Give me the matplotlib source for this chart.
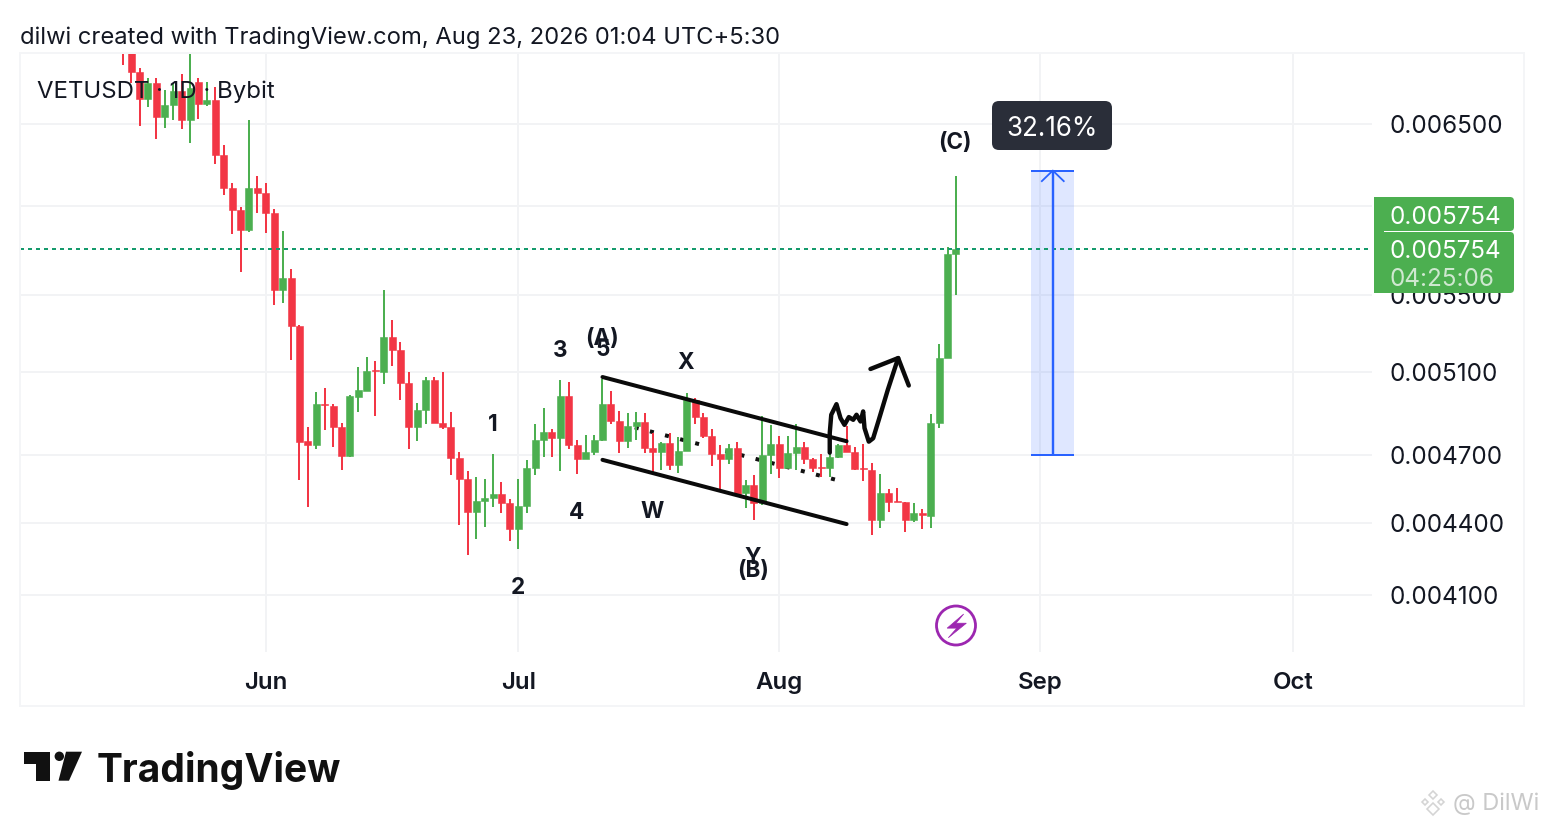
import numpy as np
import matplotlib
matplotlib.use("Agg")
import matplotlib.pyplot as plt
from matplotlib.patches import FancyBboxPatch, Rectangle, Circle, Polygon
from matplotlib.transforms import ScaledTranslation

plt.rcParams['font.family'] = ['Inter', 'DejaVu Sans']

W, H = 1544, 828
PT = 0.72  # points per pixel at dpi 100

# ---------- data (prices in millionths of USDT) ----------
first_day = -17  # days relative to 1 June
opens = [7123,7089,6837,6662,6769,6547,6623,6715,6528,6775,
         6630,6655,6307,6107,5976,5861,6107,6076,5959,5527,
         5593,5336,4766,4750,4943,4935,4834,4699,4977,5008,
         5111,5098,5279,5213,5045,4835,4915,5062,4854,4833,
         4689,4593,4448,4494,4508,4526,4487,4375,4472,4644,
         4772,4809,4779,4980,4747,4683,4716,4772,4944,4861,
         4766,4839,4856,4734,4716,4757,4657,4721,4962,4880,
         4791,4707,4683,4734,4529,4567,4487,4704,4753,4642,
         4713,4738,4683,4648,4641,4694,4747,4716,4644,4635,
         4412,4529,4495,4493,4412,4442,4431,4852,5171,5726]
highs = [7189,7156,6869,6802,6802,6722,6769,6829,7000,6802,
         6775,6742,6369,6137,5994,6528,6179,6137,5982,5855,
         5642,5341,4834,5002,5022,4943,4853,4985,5126,5176,
         5153,5527,5368,5254,5102,4948,5073,5077,5102,4905,
         4716,4631,4603,4594,4708,4580,4504,4594,4680,4848,
         4924,4825,5062,5052,4772,4796,4796,5067,5007,4910,
         4900,4905,4900,4806,4764,4806,4788,4997,4973,4900,
         4825,4749,4753,4763,4589,4613,4886,4844,4791,4791,
         4847,4764,4690,4706,4711,4753,4839,4738,4755,4665,
         4617,4550,4553,4493,4485,4460,4896,5241,5764,6179]
lows = [6889,6769,6485,6610,6407,6477,6528,6471,6382,6534,
        6617,6252,6064,5838,5625,5850,5959,5844,5446,5456,
        5161,4589,4469,4730,4820,4739,4635,4695,4905,5007,
        4883,5042,5132,4962,4730,4768,4845,4853,4825,4612,
        4392,4262,4333,4383,4470,4443,4324,4291,4445,4613,
        4695,4693,4631,4730,4617,4683,4702,4768,4848,4713,
        4734,4772,4713,4622,4635,4635,4620,4721,4848,4782,
        4650,4537,4662,4517,4465,4413,4478,4615,4597,4642,
        4635,4662,4626,4602,4604,4689,4716,4635,4582,4350,
        4378,4449,4489,4359,4406,4376,4378,4828,5171,5499]
closes = [6989,6837,6660,6769,6547,6623,6715,6528,6735,6630,
          6655,6307,6107,5976,5861,6107,6076,5959,5527,5593,
          5336,4764,4750,4943,4937,4833,4699,4982,5012,5106,
          5103,5279,5213,5045,4835,4915,5062,4854,4833,4689,
          4593,4448,4494,4508,4526,4487,4375,4473,4644,4772,
          4810,4779,4980,4747,4683,4716,4772,4944,4859,4766,
          4839,4856,4734,4716,4757,4657,4721,4962,4880,4791,
          4707,4683,4733,4526,4565,4487,4704,4753,4642,4713,
          4738,4683,4645,4644,4694,4747,4716,4640,4638,4412,
          4529,4492,4489,4412,4442,4434,4852,5171,5726,5754]

price_ticks = [0.0065, 0.0060, 0.0055, 0.0051, 0.0047, 0.0044, 0.0041]
price_labels = ['0.006500', '0.006000', '0.005500', '0.005100', '0.004700', '0.004400', '0.004100']
month_days = [0, 30, 61, 92, 122]
month_labels = ['Jun', 'Jul', 'Aug', 'Sep', 'Oct']
last_price = 0.005754

# drawings: (day, price in millionths)
upper_channel_day, upper_channel_price = [40, 69], [5075, 4766]
lower_channel_day, lower_channel_price = [40, 69], [4680, 4395]
dotted_day, dotted_price = [43.84, 67.9], [4831, 4588]
squiggle_day = [67.0,67.0,67.18,67.8,68.28,68.75,69.27,69.79,70.18,70.66,70.97,71.13,71.64,72.16,72.83,73.9,75.13]
squiggle_price = [4713,4804,4891,4942,4875,4843,4880,4867,4891,4859,4907,4828,4764,4780,4867,5012,5170]
arrow_head_day, arrow_head_price = [71.84,75.13,76.39], [5115,5170,5033]
measure_days = [90.9, 96.05]
measure_mid = 93.5
measure_from, measure_to = 4700, 6211
measure_wing_price, measure_wing_half = 6147, 1.3

# ---------- main chart ----------
GREEN, RED = '#4caf50', '#f23645'
GRID = '#f2f3f5'
fig = plt.figure(figsize=(W/100, H/100), dpi=100, facecolor='white')
L, R, T, B = 20, 1372, 55, 653
ax = fig.add_axes([L/W, 1-B/H, (R-L)/W, (B-T)/H], zorder=1)
ax.set_yscale('log')
ax.set_xlim((L-265.8)/8.417, (R-265.8)/8.417)
ax.set_ylim(0.003878, 0.006961)
for s in ax.spines.values():
    s.set_visible(False)
ax.yaxis.tick_right()
ax.set_yticks(price_ticks, price_labels)
ax.minorticks_off()
ax.yaxis.set_minor_locator(matplotlib.ticker.NullLocator())
ax.set_xticks(month_days, month_labels)
ax.tick_params(axis='y', length=0, pad=17.5*PT, labelsize=24.2*PT, labelcolor='#131722')
ax.tick_params(axis='x', length=0, pad=19.5*PT, labelsize=24*PT, labelcolor='#131722')
for t in ax.get_xticklabels():
    t.set_fontweight('semibold')
nudge = ScaledTranslation(0, 1/100, fig.dpi_scale_trans)
for t in ax.get_yticklabels():
    t.set_transform(t.get_transform() + nudge)
ax.grid(True, color=GRID, lw=2*PT, zorder=0)
ax.set_axisbelow(True)

day = np.arange(first_day, first_day + len(opens))
o, h, l, c = [np.array(a) * 1e-6 for a in (opens, highs, lows, closes)]
col = np.where(c >= o, GREEN, RED)
ax.plot(dotted_day, np.array(dotted_price)*1e-6, color='#111111', lw=4*PT,
        ls=(0, (1, 2.9)), zorder=2)
ax.vlines(day, l, h, colors=col, lw=2*PT, zorder=3)
ax.bar(day, np.abs(c-o), bottom=np.minimum(o, c), width=7/8.417, color=col,
       edgecolor=col, lw=0.4, zorder=3)

# last price line
ax.axhline(last_price, color='#159a6c', lw=2*PT, ls=(0, (2, 2)), zorder=4)

# price range tool
md0, md1 = measure_days
ax.fill_between(measure_days, measure_from*1e-6, measure_to*1e-6, color='#2962ff', alpha=0.15, lw=0, zorder=2)
ax.hlines([measure_from*1e-6, measure_to*1e-6], md0, md1, colors='#2962ff', lw=2*PT, zorder=5)
ax.vlines(measure_mid, measure_from*1e-6, measure_to*1e-6, colors='#2962ff', lw=2.4*PT, zorder=5)
ax.plot([measure_mid-measure_wing_half, measure_mid, measure_mid+measure_wing_half],
        [measure_wing_price*1e-6, measure_to*1e-6, measure_wing_price*1e-6],
        color='#2962ff', lw=1.8*PT, zorder=5)

# hand-drawn lines
for xs, ys in [(upper_channel_day, upper_channel_price), (lower_channel_day, lower_channel_price)]:
    ax.plot(xs, np.array(ys)*1e-6, color='#0a0a0a', lw=4*PT, solid_capstyle='round', zorder=6)
ax.plot(squiggle_day, np.array(squiggle_price)*1e-6, color='#0a0a0a', lw=4.4*PT,
        solid_capstyle='round', solid_joinstyle='round', zorder=6)
ax.plot(arrow_head_day, np.array(arrow_head_price)*1e-6, color='#0a0a0a', lw=4.4*PT,
        solid_capstyle='round', solid_joinstyle='round', zorder=6)

# ---------- overlay in pixels ----------
ov = fig.add_axes([0, 0, 1, 1], zorder=2)
ov.set_xlim(0, W); ov.set_ylim(H, 0); ov.axis('off'); ov.patch.set_alpha(0)

ov.add_patch(Rectangle((20, 54), 1504, 653, fill=False, ec='#f4f5f7', lw=2*PT))

ov.text(20, 38, 'dilwi created with TradingView.com, Aug 23, 2026 01:04 UTC+5:30',
        fontsize=23.75*PT, color='#131722', va='center', ha='left')
ov.text(37, 92, 'VETUSDT · 1D · Bybit', fontsize=24*PT, color='#131722', va='center', ha='left')

wave_labels = [('(A)', 602, 339), ('5', 603, 350), ('3', 560, 351), ('1', 493, 425),
               ('2', 518, 588), ('4', 577, 513), ('W', 652, 512), ('X', 686, 363),
               ('Y', 753, 558), ('(B)', 753, 571), ('(C)', 955, 143)]
for s, x, y in wave_labels:
    ov.text(x, y, s, fontsize=22.5*PT, fontweight='bold', color='#131722', ha='center', va='center')

# tooltip
ov.add_patch(FancyBboxPatch((992+7, 102+7), 120-14, 49-14, boxstyle='round,pad=7,rounding_size=7',
                            fc='#2a2e39', ec='none', mutation_aspect=1))
ov.text(1052, 129, '32.16%', color='#ffffff', fontsize=26*PT, ha='center', va='center')

# price tags
ov.add_patch(FancyBboxPatch((1378, 202), 132, 26, boxstyle='round,pad=4,rounding_size=4', fc=GREEN, ec='none'))
ov.add_patch(FancyBboxPatch((1378, 237), 132, 53, boxstyle='round,pad=4,rounding_size=4', fc=GREEN, ec='none'))
ov.add_patch(Rectangle((1374, 198), 10, 96, fc=GREEN, ec='none'))
ov.text(1389.5, 218, '0.005754', color='#ffffff', fontsize=24.2*PT, ha='left', va='center')
ov.text(1389.5, 252, '0.005754', color='#ffffff', fontsize=24.2*PT, ha='left', va='center')
ov.text(1389.5, 280, '04:25:06', color='#cfe8d0', fontsize=24.2*PT, ha='left', va='center')

# bolt badge
ov.add_patch(Circle((956, 626.5), 19.5, fill=False, ec='#9c27b0', lw=2.8*PT))
bolt = np.array([(6.7,-10),(-7.7,2.3),(0.7,2.3),(-6.7,10.7),(9,-2),(0,-2)]) * 1.15 + (956, 626.5)
ov.add_patch(Polygon(bolt, closed=True, fc='#9c27b0', ec='#9c27b0', lw=0.5))

# TradingView logo
LOGO = '#111111'
ov.add_patch(Polygon([(24,752.7),(50,752.7),(50,781.7),(36,781.7),(36,764.7),(24,764.7)], closed=True, fc=LOGO, ec='none'))
ov.add_patch(Circle((59.3,757.3), 4.7, fc=LOGO, ec='none'))
ov.add_patch(Polygon([(66,752.7),(82,752.7),(69,781.7),(58.5,781.7)], closed=True, fc=LOGO, ec='none'))
ov.text(97, 782, 'TradingView', fontsize=39*PT, fontweight='bold', color=LOGO, ha='left', va='baseline')

# watermark
ov.text(1453, 804, '@ DilWi', fontsize=23.5*PT, color='#c9c9c9', ha='left', va='center')
for dx, dy, r in [(0,-7,4),(0,7,6),(-8,0,3),(8,0,3)]:
    cx, cy = 1433+dx, 803+dy
    ov.add_patch(Polygon([(cx-r,cy),(cx,cy-r),(cx+r,cy),(cx,cy+r)], closed=True, fill=False, ec='#d4d4d4', lw=1.6*PT))

fig.savefig('out.png', dpi=100)
